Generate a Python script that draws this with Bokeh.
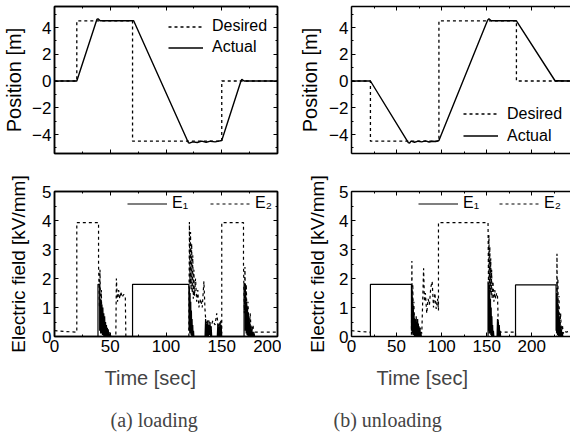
from bokeh.plotting import figure
from bokeh.layouts import column, row
from bokeh.models import Range1d, FixedTicker, LinearAxis, Legend, LegendItem, Title
from bokeh.embed import file_html
from bokeh.resources import INLINE

FONT = "Liberation Sans"
SERIF = "Liberation Serif"

# ---------------- data (time [s], value) ----------------
# (a) loading - position [m]
pos_des_a = [(0, 0), (20, 0), (20, 4.5), (70, 4.5), (70, -4.5), (150, -4.5), (150, 0), (200, 0)]
pos_act_a = [(0, 0), (20, 0), (38, 4.6), (39, 4.65), (41, 4.5), (71, 4.5), (120, -4.6), (121, -4.65),
             (124, -4.55), (128, -4.6), (132, -4.5), (136, -4.58), (140, -4.5), (144, -4.55),
             (150, -4.45), (167, -0.05), (168, 0.12), (170, 0.0), (200, 0)]
# (a) loading - electric field [kV/mm]
e1_a = [(0, 0), (39, 0), (39, 1.8), (40.5, 1.8), (40.5, 0.2), (41, 1.3), (41.4, 0.1), (41.8, 1.25),
        (42.2, 0.1), (42.6, 1.1), (43, 0.05), (43.4, 1.0), (43.8, 0.05), (44.2, 0.8), (44.6, 0),
        (45, 0.7), (45.4, 0), (45.8, 0.5), (46.2, 0), (46.6, 0.4), (47, 0), (47.4, 0.3), (47.8, 0),
        (48.2, 0.25), (48.6, 0), (49, 0.15), (49.4, 0), (50, 0.08), (50.5, 0),
        (70, 0), (70, 1.8), (120.5, 1.8), (120.7, 0.2), (121, 1.7), (121.3, 0.1), (121.6, 1.5),
        (121.9, 0.1), (122.2, 1.2), (122.5, 0.05), (122.8, 0.9), (123.1, 0), (123.4, 0.6),
        (123.7, 0), (124, 0.4), (124.3, 0), (124.7, 0.2), (125, 0),
        (135, 0), (135.5, 0.6), (136, 0), (136.5, 0.45), (137, 0), (137.5, 0.55), (138, 0),
        (138.5, 0.4), (139, 0.05), (139.5, 0.5), (140, 0), (140.5, 0.35), (141, 0),
        (146, 0), (146.5, 0.45), (147, 0), (147.5, 0.35), (148, 0), (148.5, 0.5), (149, 0),
        (149.5, 0.4), (150, 0),
        (170, 0), (170, 1.8), (171.2, 1.8), (171.2, 0.2), (171.5, 1.4), (171.9, 0.1), (172.3, 1.2),
        (172.7, 0.05), (173.1, 1.0), (173.5, 0), (173.9, 0.8), (174.3, 0), (174.7, 0.6), (175.1, 0),
        (175.5, 0.45), (175.9, 0), (176.3, 0.35), (176.7, 0), (177.1, 0.25), (177.5, 0),
        (178, 0.15), (178.5, 0), (179, 0.1), (179.5, 0), (200, 0)]
e2_a = [(0, 0.2), (10, 0.17), (20, 0.15), (20, 3.93), (39.5, 3.93), (39.5, 2.5), (40.3, 1.0),
        (40.8, 2.3), (41.5, 0.5), (42, 1.6), (42.6, 0.2), (43.2, 0.8), (44, 0), (55, 0), (55.5, 2.0),
        (56.5, 1.2), (57.5, 1.6), (58.5, 1.3), (59.5, 1.55), (60.5, 1.35), (62, 1.45), (63.5, 1.4),
        (64, 0), (120.5, 0), (121, 3.95), (121.5, 1.8), (122, 3.6), (122.5, 1.6), (123, 3.2),
        (123.5, 1.5), (124, 2.8), (124.5, 1.3), (125, 2.3), (125.5, 1.4), (126.5, 2.0), (127.5, 1.2),
        (128.5, 1.6), (129.5, 1.0), (131, 1.3), (132.5, 1.0), (134, 1.9), (135, 0.9), (136, 0.4),
        (138, 0.6), (140, 0.3), (142, 0.55), (144, 0.4), (145.5, 0.8), (147, 0.3), (149, 0.55),
        (150, 0.1), (150, 3.93), (169.5, 3.93), (169.5, 2.5), (170.3, 0.8), (170.8, 2.4),
        (171.5, 0.5), (172, 1.8), (172.8, 0.3), (173.5, 1.2), (174.5, 0.2), (175.5, 0.8),
        (176.5, 0.1), (178, 0.4), (179, 0.05), (180, 0.15), (200, 0.15)]

# (b) unloading - position [m]
pos_des_b = [(0, 0), (21, 0), (21, -4.5), (97, -4.5), (97, 4.5), (183, 4.5), (183, 0), (245, 0)]
pos_act_b = [(0, 0), (21, 0), (63, -4.6), (64.5, -4.65), (66, -4.5), (70, -4.58), (74, -4.5),
             (78, -4.55), (82, -4.48), (86, -4.56), (90, -4.5), (94, -4.52), (97, -4.45),
             (151, 4.55), (152.5, 4.65), (155, 4.5), (183, 4.5), (226, 0.0), (228, 0.02), (245, 0)]
# (b) unloading - electric field [kV/mm]
e1_b = [(0, 0), (21, 0), (21, 1.8), (66.5, 1.8), (66.5, 0.2), (67, 1.6), (67.4, 0.1), (67.8, 1.3),
        (68.2, 0.05), (68.6, 1.0), (69, 0.05), (69.4, 0.8), (69.8, 0), (70.2, 0.6), (70.6, 0),
        (71, 0.55), (71.4, 0), (71.8, 0.7), (72.2, 0), (72.6, 0.5), (73, 0), (73.4, 0.6), (73.8, 0),
        (74.2, 0.45), (74.6, 0), (75, 0.35), (75.4, 0), (76, 0.3), (76.5, 0), (77, 0.15), (77.5, 0),
        (151.5, 0), (151.5, 1.9), (152.2, 0.2), (152.6, 1.8), (153, 0.1), (153.4, 1.6), (153.8, 0.1),
        (154.2, 1.3), (154.6, 0.05), (155, 1.0), (155.4, 0), (155.8, 0.7), (156.2, 0), (156.6, 0.4),
        (157, 0), (157.5, 0.2), (158, 0),
        (161.5, 0), (162, 0.6), (162.5, 0), (163, 0.5), (163.5, 0), (164, 0.4), (164.5, 0),
        (165, 0.2), (165.5, 0),
        (182, 0), (182, 1.78), (227, 1.78), (227, 0.2), (227.4, 1.5), (227.8, 0.1), (228.2, 1.3),
        (228.6, 0.05), (229, 1.1), (229.4, 0), (229.8, 0.9), (230.2, 0), (230.6, 0.7), (231, 0),
        (231.4, 0.5), (231.8, 0), (232.2, 0.35), (232.6, 0), (233, 0.25), (233.5, 0), (234, 0.15),
        (234.5, 0), (245, 0)]
e2_b = [(0, 0.2), (10, 0.17), (21, 0.15), (21, 0), (66.5, 0), (67, 2.6), (67.5, 0.3), (68, 1.8),
        (68.6, 0.2), (69.2, 1.2), (70, 0.1), (71, 0.6), (72, 0.2), (73, 0.5), (74.5, 0.1), (76, 0.3),
        (78, 0.1), (80, 2.35), (81, 1.2), (82, 1.5), (83.5, 0.8), (85, 1.3), (86.5, 1.1), (88, 1.7),
        (89.5, 1.9), (91, 1.0), (92.5, 1.5), (94, 0.95), (95.5, 1.3), (96.5, 0.9), (96.5, 3.93),
        (151.5, 3.93), (152, 1.8), (152.5, 3.5), (153, 1.6), (153.5, 3.1), (154, 1.5), (154.5, 2.7),
        (155, 1.4), (155.5, 2.3), (156, 1.3), (157, 1.9), (158, 1.2), (159, 1.6), (160, 1.3),
        (161, 1.5), (162, 1.4), (163, 0.3), (164, 0.15), (182, 0.15), (182, 0), (227.5, 0),
        (228, 2.85), (228.5, 0.4), (229, 2.0), (229.6, 0.3), (230.2, 1.4), (231, 0.2), (232, 0.8),
        (233, 0.1), (234, 0.4), (235, 0.1), (236, 0.2), (238, 0.15), (245, 0.2)]

# ticks / labels
x_major = [0, 50, 100, 150, 200]
x_minor = [25, 75, 125, 175, 225]
pos_major = [-4, -2, 0, 2, 4]
pos_minor = [-5, -3, -1, 1, 3, 5]
e_major = [0, 1, 2, 3, 4, 5]
e_minor = [0.5, 1.5, 2.5, 3.5, 4.5]
xlim_a = (0, 200)
xlim_b = (0, 243)
pos_lim = (-5.42, 5.57)
e_lim = (0, 5)


def xs(d):
    return [a for a, b in d]


def ys(d):
    return [b for a, b in d]


def style_axis(ax, major, minor, labels=True):
    ax.ticker = FixedTicker(ticks=major, minor_ticks=minor)
    ax.major_tick_in = 4
    ax.major_tick_out = 0
    ax.minor_tick_in = 2
    ax.minor_tick_out = 0
    ax.axis_line_width = 1.5
    ax.axis_line_color = "black"
    ax.major_tick_line_color = "black"
    ax.minor_tick_line_color = "black"
    ax.major_label_text_font = FONT
    ax.major_label_text_color = "black"
    ax.axis_label_text_font = FONT
    ax.axis_label_text_font_style = "normal"
    ax.axis_label_text_font_size = "20px"
    ax.axis_label_text_color = "black"
    if labels:
        ax.major_label_text_font_size = "17px"
        ax.major_label_standoff = 3
    else:
        ax.major_label_overrides = {t: "" for t in major}
        ax.major_label_text_font_size = "1px"
        ax.major_label_standoff = 0


def make(w, h, xr, yr, ml, mr, mt, mb, xmaj, ymaj, ymin, xlabels, framed, ylabel, ystand, ysize):
    p = figure(width=w, height=h, x_range=Range1d(*xr), y_range=Range1d(*yr),
               output_backend="svg", toolbar_location=None,
               min_border_left=ml, min_border_right=mr, min_border_top=mt, min_border_bottom=mb,
               background_fill_color="white", border_fill_color="white")
    p.grid.visible = False
    style_axis(p.xaxis[0], xmaj, x_minor, labels=xlabels)
    style_axis(p.yaxis[0], ymaj, ymin, labels=True)
    p.yaxis[0].axis_label = ylabel
    p.yaxis[0].axis_label_standoff = ystand
    p.yaxis[0].axis_label_text_font_size = ysize
    top = LinearAxis()
    style_axis(top, xmaj, x_minor, labels=False)
    p.add_layout(top, "above")
    if framed:
        right = LinearAxis()
        style_axis(right, ymaj, ymin, labels=False)
        p.add_layout(right, "right")
        p.outline_line_color = "black"
        p.outline_line_width = 1.5
    else:
        p.outline_line_color = None
    return p


def legend(items, loc, orient, gw, gh, spacing, standoff, lw=None):
    lg = Legend(items=items, location=loc, orientation=orient,
                border_line_color=None, background_fill_alpha=0, padding=0, margin=0,
                spacing=spacing, glyph_width=gw, glyph_height=gh, label_height=gh,
                label_standoff=standoff, label_text_font=FONT, label_text_font_size="16px",
                label_text_color="black")
    if lw is not None:
        lg.label_width = lw
    return lg


DASH = "3 3"
LW, RW, TH, BH = 281, 289, 172, 271

# ---- top-left: position, loading
p1 = make(LW, TH, xlim_a, pos_lim, 54, 4, 6, 19, x_major, pos_major, pos_minor, False, True,
          "Position [m]", 4, "20px")
r_d = p1.line(xs(pos_des_a), ys(pos_des_a), line_color="black", line_width=1.3, line_dash=DASH)
r_a = p1.line(xs(pos_act_a), ys(pos_act_a), line_color="black", line_width=1.4)
p1.add_layout(legend([LegendItem(label="Desired", renderers=[r_d]),
                      LegendItem(label="Actual", renderers=[r_a])],
                     (114, 97), "vertical", 35, 17, 3, 9))

# ---- top-right: position, unloading
p2 = make(RW, TH, xlim_b, pos_lim, 70, 0, 6, 19, x_major, pos_major, pos_minor, False, False,
          "Position [m]", 5, "20px")
r_d2 = p2.line(xs(pos_des_b), ys(pos_des_b), line_color="black", line_width=1.3, line_dash=DASH)
r_a2 = p2.line(xs(pos_act_b), ys(pos_act_b), line_color="black", line_width=1.4)
p2.add_layout(legend([LegendItem(label="Desired", renderers=[r_d2]),
                      LegendItem(label="Actual", renderers=[r_a2])],
                     (112, 8), "vertical", 35, 19, 3, 9))

# ---- bottom-left: electric field, loading
p3 = make(LW, BH, xlim_a, e_lim, 54, 4, 19, 107, x_major, e_major, e_minor, True, True,
          "Electric field [kV/mm]", 10, "19px")
r_e1 = p3.line(xs(e1_a), ys(e1_a), line_color="black", line_width=1.2)
r_e2 = p3.line(xs(e2_a), ys(e2_a), line_color="black", line_width=1.2, line_dash=DASH)
p3.add_layout(legend([LegendItem(label="E\u2081", renderers=[r_e1]),
                      LegendItem(label="E\u2082", renderers=[r_e2])],
                     (73, 124), "horizontal", 40, 17, 18, 5, 20))
p3.add_layout(Title(text="Time [sec]", align="left", offset=50, text_font=FONT,
                    text_font_size="20px", text_font_style="normal", standoff=21), "below")
p3.add_layout(Title(text="(a) loading", align="left", offset=56, text_font=SERIF,
                    text_font_size="20px", text_font_style="normal", standoff=14), "below")

# ---- bottom-right: electric field, unloading
p4 = make(RW, BH, xlim_b, e_lim, 70, 0, 19, 107, x_major, e_major, e_minor, True, False,
          "Electric field [kV/mm]", 8, "19px")
r_f1 = p4.line(xs(e1_b), ys(e1_b), line_color="black", line_width=1.2)
r_f2 = p4.line(xs(e2_b), ys(e2_b), line_color="black", line_width=1.2, line_dash=DASH)
p4.add_layout(legend([LegendItem(label="E\u2081", renderers=[r_f1]),
                      LegendItem(label="E\u2082", renderers=[r_f2])],
                     (67, 124), "horizontal", 40, 17, 16, 5, 20))
p4.add_layout(Title(text="Time [sec]", align="left", offset=25, text_font=FONT,
                    text_font_size="20px", text_font_style="normal", standoff=21), "below")
p4.add_layout(Title(text="(b) unloading", align="left", offset=-18, text_font=SERIF,
                    text_font_size="20px", text_font_style="normal", standoff=14), "below")

layout = column(row(p1, p2), row(p3, p4))
open("out.html", "w").write(file_html(layout, INLINE))
